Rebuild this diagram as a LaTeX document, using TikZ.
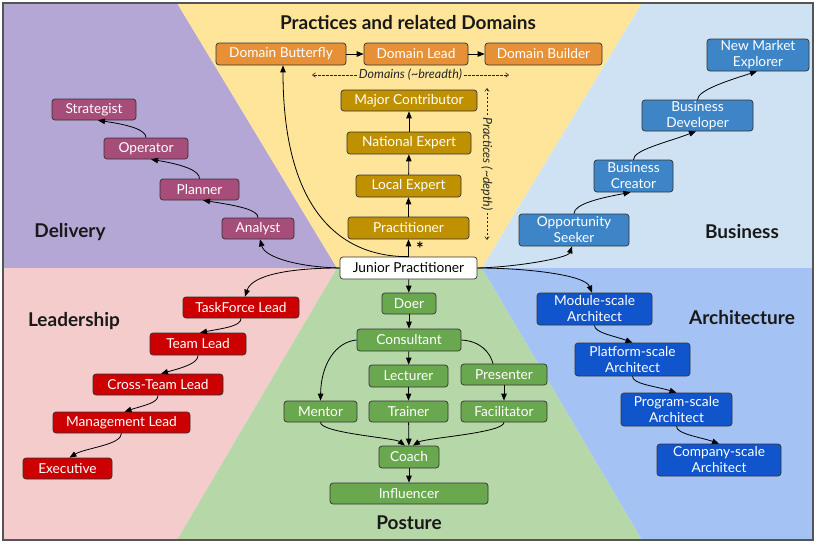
\documentclass[tikz,border=0pt]{standalone}
\usepackage{fontspec}
\setmainfont{Lato}
\usetikzlibrary{arrows.meta}
\definecolor{bgPurple}{HTML}{B4A7D6}
\definecolor{bgYellow}{HTML}{FFE599}
\definecolor{bgLightBlue}{HTML}{CFE2F3}
\definecolor{bgPink}{HTML}{F4CCCC}
\definecolor{bgGreen}{HTML}{B6D7A8}
\definecolor{bgBlue}{HTML}{A4C2F4}
\definecolor{nOrange}{HTML}{E69138}
\definecolor{nGold}{HTML}{BF9000}
\definecolor{nPurple}{HTML}{A64D79}
\definecolor{nBlue}{HTML}{3D85C6}
\definecolor{nRed}{HTML}{CC0000}
\definecolor{nArch}{HTML}{1155CC}
\definecolor{nGreen}{HTML}{6AA84F}
\definecolor{frame}{HTML}{555555}
\begin{document}
\begin{tikzpicture}[x=1pt,y=-1pt,
  box/.style={draw=black!80, line width=0.7pt, rounded corners=3pt, text=white,
    font=\fontsize{13.7}{16}\selectfont, inner sep=0pt, align=center},
  arr/.style={-{Triangle[length=7pt,width=5.5pt]}, line width=0.8pt},
  plain/.style={line width=0.8pt},
  note/.style={font=\fontsize{12.5}{14}\selectfont\itshape, text=black!85, inner sep=2pt},
  annot/.style={-{Straight Barb[length=3pt,width=4.5pt]}, line width=0.6pt, black!85, dash pattern=on 2.5pt off 1.5pt},
  area/.style={font=\fontsize{19}{22}\selectfont\bfseries, text=black!90}]
\useasboundingbox (0,0) rectangle (817,544);
% backgrounds
\fill[bgPurple] (3,3) -- (177,3) -- (337,268) -- (3,268) -- cycle;
\fill[bgYellow] (177,3) -- (642,3) -- (482,268) -- (337,268) -- cycle;
\fill[bgLightBlue] (642,3) -- (813,3) -- (813,268) -- (482,268) -- cycle;
\fill[bgPink] (3,268) -- (337,268) -- (177,540) -- (3,540) -- cycle;
\fill[bgGreen] (337,268) -- (482,268) -- (642,540) -- (177,540) -- cycle;
\fill[bgBlue] (482,268) -- (813,268) -- (813,540) -- (642,540) -- cycle;
\draw[frame, line width=1.5pt] (3,3) rectangle (813,540);
% area labels
\node[area] (tTitle) at (408,23) {Practices and related Domains};
\node[area] (tDel) at (70,232) {Delivery};
\node[area] (tLead) at (74,321) {Leadership};
\node[area] (tBus) at (742,232) {Business};
\node[area] (tArch) at (742,318) {Architecture};
\node[area] (tPost) at (409,523) {Posture};
% domains
\node[box, fill=nOrange, minimum width=130, minimum height=22] (db) at (281,54) {Domain Butterfly};
\node[box, fill=nOrange, minimum width=104, minimum height=22] (dl) at (416,54) {Domain Lead};
\node[box, fill=nOrange, minimum width=117, minimum height=22] (dbu) at (543.5,54) {Domain Builder};
% practices
\node[box, fill=nGold, minimum width=136, minimum height=21] (mc) at (409,100.5) {Major Contributor};
\node[box, fill=nGold, minimum width=124, minimum height=22] (ne) at (409,143) {National Expert};
\node[box, fill=nGold, minimum width=105, minimum height=22] (le) at (408.5,186) {Local Expert};
\node[box, fill=nGold, minimum width=121, minimum height=22] (pr) at (408.5,228) {Practitioner};
\node[box, fill=white, text=black, minimum width=137, minimum height=22] (jp) at (408.5,268) {Junior Practitioner};
\node[font=\fontsize{18}{18}\selectfont\bfseries, inner sep=0pt, anchor=south] (star) at (420,256) {*};
% delivery
\node[box, fill=nPurple, minimum width=84, minimum height=21] (st) at (94,109.5) {Strategist};
\node[box, fill=nPurple, minimum width=84, minimum height=21] (op) at (146,148.5) {Operator};
\node[box, fill=nPurple, minimum width=79, minimum height=21] (pl) at (199.5,189.5) {Planner};
\node[box, fill=nPurple, minimum width=72, minimum height=21] (an) at (258,228.5) {Analyst};
% leadership
\node[box, fill=nRed, minimum width=116, minimum height=21] (tf) at (241,307.5) {TaskForce Lead};
\node[box, fill=nRed, minimum width=96, minimum height=22] (tl) at (198,344) {Team Lead};
\node[box, fill=nRed, minimum width=130, minimum height=21] (ct) at (158,384.5) {Cross-Team Lead};
\node[box, fill=nRed, minimum width=137, minimum height=21] (ml) at (121.5,422.5) {Management Lead};
\node[box, fill=nRed, minimum width=89, minimum height=21] (ex) at (67.5,468.5) {Executive};
% business
\node[box, fill=nBlue, minimum width=110, minimum height=32] (os) at (574,230) {Opportunity\\Seeker};
\node[box, fill=nBlue, minimum width=79, minimum height=32] (bc) at (633.5,176) {Business\\Creator};
\node[box, fill=nBlue, minimum width=111, minimum height=31] (bd) at (697.5,115.5) {Business\\Developer};
\node[box, fill=nBlue, minimum width=102, minimum height=32] (nm) at (758,55) {New Market\\Explorer};
% architecture
\node[box, fill=nArch, minimum width=115, minimum height=32] (ms) at (594.5,309) {Module-scale\\Architect};
\node[box, fill=nArch, minimum width=115, minimum height=33] (ps) at (632.5,359.5) {Platform-scale\\Architect};
\node[box, fill=nArch, minimum width=111, minimum height=33] (pg) at (676.5,409.5) {Program-scale\\Architect};
\node[box, fill=nArch, minimum width=124, minimum height=32] (cs) at (719,460) {Company-scale\\Architect};
% posture
\node[box, fill=nGreen, minimum width=54, minimum height=21] (doer) at (409,303.5) {Doer};
\node[box, fill=nGreen, minimum width=104, minimum height=22] (cons) at (409,340) {Consultant};
\node[box, fill=nGreen, minimum width=79, minimum height=22] (lec) at (408.5,376) {Lecturer};
\node[box, fill=nGreen, minimum width=86, minimum height=21] (pres) at (504,374.5) {Presenter};
\node[box, fill=nGreen, minimum width=73, minimum height=21] (men) at (320.5,411.5) {Mentor};
\node[box, fill=nGreen, minimum width=79, minimum height=21] (tr) at (408.5,411.5) {Trainer};
\node[box, fill=nGreen, minimum width=86, minimum height=21] (fac) at (504,411.5) {Facilitator};
\node[box, fill=nGreen, minimum width=60, minimum height=22] (coach) at (409,457) {Coach};
\node[box, fill=nGreen, minimum width=158, minimum height=21] (inf) at (409,493.5) {Influencer};
% annotations
\node[note] (dtxt) at (410.5,75) {Domains (\textasciitilde breadth)};
\coordinate (dleft) at (312,75);
\coordinate (dright) at (509,75);
\draw[annot] (dtxt.west) -- (dleft);
\draw[annot] (dtxt.east) -- (dright);
\node[note, rotate=-90] (ptxt) at (487,164) {Practices (\textasciitilde depth)};
\coordinate (ptop) at (487,88);
\coordinate (pbot) at (487,240);
\draw[annot] (ptxt.west) -- (ptop);
\draw[annot] (ptxt.east) -- (pbot);
% connectors: domains / practices
\draw[arr] (db) -- (dl);
\draw[arr] (dl) -- (dbu);
\draw[arr] (jp) -- (pr);
\draw[arr] (pr) -- (le);
\draw[arr] (le) -- (ne);
\draw[arr] (ne) -- (mc);
\draw[arr] (jp.north) .. controls (340,257) and (283,210) .. ([xshift=2pt]db.south);
% from junior
\draw[arr] (jp.west) .. controls (300,267) and (265,258) .. ([xshift=2pt]an.south);
\draw[arr] (jp.west) .. controls (290,268) and (252,275) .. ([xshift=4pt]tf.north);
\draw[arr] (jp.east) .. controls (517,267) and (568,258) .. ([xshift=-2pt]os.south);
\draw[arr] (jp.east) .. controls (527,268) and (585,275) .. ([xshift=-2.5pt]ms.north);
\draw[arr] (jp) -- (doer);
% delivery chain
\draw[arr] (an.north) .. controls (258,210) and (240,206) .. ([xshift=3.5pt]pl.south);
\draw[arr] (pl.north) .. controls (199.5,171) and (185,165) .. ([xshift=5pt]op.south);
\draw[arr] (op.north) .. controls (146,130) and (130,125) .. ([xshift=4pt]st.south);
% leadership chain
\draw[arr] (tf.south) .. controls (241,326) and (225,328) .. ([xshift=2pt]tl.north);
\draw[arr] (tl.south) .. controls (198,363) and (185,367) .. ([xshift=3pt]ct.north);
\draw[arr] (ct.south) .. controls (158,403) and (145,405) .. ([xshift=3pt]ml.north);
\draw[arr] (ml.south) .. controls (121.5,445) and (85,448) .. ([xshift=2pt]ex.north);
% business chain
\draw[arr] (os.north) .. controls (574,204) and (600,198) .. ([xshift=-3pt]bc.south);
\draw[arr] (bc.north) .. controls (633.5,150) and (665,143) .. ([xshift=-1.5pt]bd.south);
\draw[arr] (bd.north) .. controls (697.5,90) and (730,80) .. ([xshift=-1pt]nm.south);
% architecture chain
\draw[arr] (ms.south) .. controls (594.5,333) and (615,336) .. (ps.north);
\draw[arr] (ps.south) .. controls (632.5,384) and (655,386) .. (pg.north);
\draw[arr] (pg.south) .. controls (676.5,434) and (700,437) .. (cs.north);
% posture
\draw[arr] (doer) -- (cons);
\draw[arr] (cons) -- (lec);
\draw[arr] (lec) -- (tr);
\draw[arr] (cons.west) .. controls (335,342) and (321,365) .. (men.north);
\draw[plain] (cons.east) .. controls (480,341) and (490,352) .. ([xshift=-11pt]pres.north);
\draw[arr] (pres) -- (fac);
\draw[arr] (men.south) .. controls (320.5,433) and (395,438) .. ([xshift=-4pt]coach.north);
\draw[arr] (tr) -- (coach);
\draw[arr] (fac.south) .. controls (504,433) and (425,438) .. ([xshift=4pt]coach.north);
\draw[arr] (coach) -- (inf);
\end{tikzpicture}
\end{document}
